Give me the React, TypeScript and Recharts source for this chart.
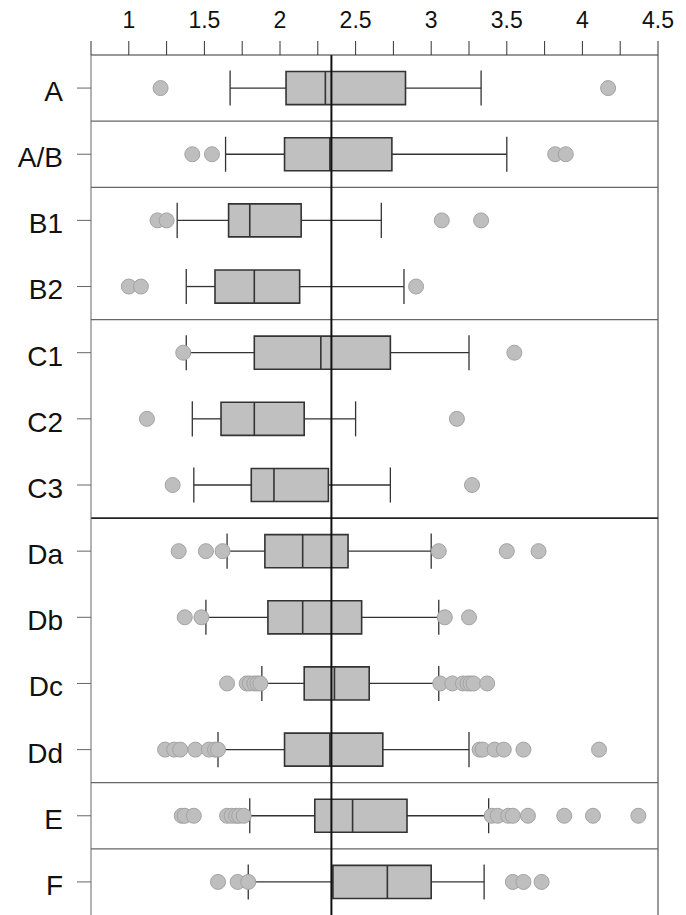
import { ComposedChart, XAxis, YAxis, Scatter, ReferenceArea, ReferenceLine } from 'recharts'

// box plot stats per row
const rowLabels = ['A', 'A/B', 'B1', 'B2', 'C1', 'C2', 'C3', 'Da', 'Db', 'Dc', 'Dd', 'E', 'F']
const whiskerLow = [1.67, 1.64, 1.32, 1.38, 1.38, 1.42, 1.43, 1.65, 1.51, 1.88, 1.59, 1.8, 1.79]
const q1 = [2.04, 2.03, 1.66, 1.57, 1.83, 1.61, 1.81, 1.9, 1.92, 2.16, 2.03, 2.23, 2.35]
const median = [2.3, 2.33, 1.8, 1.83, 2.27, 1.83, 1.96, 2.15, 2.15, 2.36, 2.33, 2.48, 2.71]
const q3 = [2.83, 2.74, 2.14, 2.13, 2.73, 2.16, 2.32, 2.45, 2.54, 2.59, 2.68, 2.84, 3.0]
const whiskerHigh = [3.33, 3.5, 2.67, 2.82, 3.25, 2.5, 2.73, 3.0, 3.05, 3.05, 3.25, 3.38, 3.35]
const outliers = [
  [1.21, 4.17],
  [1.42, 1.55, 3.82, 3.89],
  [1.19, 1.25, 3.07, 3.33],
  [1.0, 1.08, 2.9],
  [1.36, 3.55],
  [1.12, 3.17],
  [1.29, 3.27],
  [1.33, 1.51, 1.62, 3.05, 3.5, 3.71],
  [1.37, 1.48, 3.09, 3.25],
  [1.65, 1.78, 1.8, 1.83, 1.85, 1.87, 3.06, 3.14, 3.21, 3.24, 3.26, 3.28, 3.37],
  [1.24, 1.3, 1.34, 1.44, 1.53, 1.57, 1.59, 3.32, 3.34, 3.42, 3.48, 3.61, 4.11],
  [1.35, 1.37, 1.43, 1.65, 1.68, 1.71, 1.73, 1.76, 3.4, 3.44, 3.51, 3.54, 3.64, 3.88, 4.07, 4.37],
  [1.59, 1.72, 1.79, 3.54, 3.61, 3.73],
]
const xTicks = [0.75, 1, 1.25, 1.5, 1.75, 2, 2.25, 2.5, 2.75, 3, 3.25, 3.5, 3.75, 4, 4.25, 4.5]
const groupBreaks = [0.5, 1.5, 3.5, 6.5, 10.5, 11.5]
const referenceValue = 2.34

const rowIdx = rowLabels.map((_, i) => i)
const outlierPoints = outliers.flatMap((vals, row) => vals.map((v) => ({ v, row })))

const FONT = '"Liberation Sans", Arial, sans-serif'
const HALF = 0.25
const CAP = 0.265

export default function App() {
  return (
    <div style={{ position: 'absolute', left: 0, top: 0, background: '#fff' }}>
      <ComposedChart width={686} height={915} margin={{ top: 0, right: 28, bottom: 0, left: 0 }}>
        <XAxis
          type="number"
          dataKey="v"
          orientation="top"
          domain={[0.75, 4.5]}
          ticks={xTicks}
          interval={0}
          height={55}
          tickSize={14}
          tickMargin={13}
          stroke="#333"
          tick={{ fill: '#111', fontSize: 23, fontFamily: FONT }}
          tickFormatter={(v: number) => (Number.isInteger(v * 2) ? String(v) : '')}
        />
        <YAxis
          type="number"
          dataKey="row"
          domain={[-0.5, 12.5]}
          reversed
          ticks={rowIdx}
          interval={0}
          width={91}
          tickSize={14}
          tickMargin={14}
          stroke="#666"
          tick={{ fill: '#111', fontSize: 28, fontFamily: FONT, dy: 3 }}
          tickFormatter={(i: number) => rowLabels[i] ?? ''}
        />
        <ReferenceLine x={4.5} stroke="#555" strokeWidth={1.2} />
        {groupBreaks.map((y) => (
          <ReferenceLine key={`g-${y}`} y={y} stroke={y === 6.5 ? '#222' : '#666'} strokeWidth={y === 6.5 ? 1.6 : 1.3} />
        ))}
        {rowIdx.map((i) => (
          <ReferenceLine
            key={`wl-${i}`}
            segment={[{ x: whiskerLow[i], y: i }, { x: q1[i], y: i }]}
            stroke="#333"
            strokeWidth={1.3}
          />
        ))}
        {rowIdx.map((i) => (
          <ReferenceLine
            key={`wh-${i}`}
            segment={[{ x: q3[i], y: i }, { x: whiskerHigh[i], y: i }]}
            stroke="#333"
            strokeWidth={1.3}
          />
        ))}
        {rowIdx.map((i) => (
          <ReferenceLine
            key={`cl-${i}`}
            segment={[{ x: whiskerLow[i], y: i - CAP }, { x: whiskerLow[i], y: i + CAP }]}
            stroke="#333"
            strokeWidth={1.3}
          />
        ))}
        {rowIdx.map((i) => (
          <ReferenceLine
            key={`ch-${i}`}
            segment={[{ x: whiskerHigh[i], y: i - CAP }, { x: whiskerHigh[i], y: i + CAP }]}
            stroke="#333"
            strokeWidth={1.3}
          />
        ))}
        {rowIdx.map((i) => (
          <ReferenceArea
            key={`box-${i}`}
            x1={q1[i]}
            x2={q3[i]}
            y1={i - HALF}
            y2={i + HALF}
            fill="#c0c0c0"
            fillOpacity={1}
            stroke="#333"
            strokeWidth={1.6}
          />
        ))}
        {rowIdx.map((i) => (
          <ReferenceLine
            key={`md-${i}`}
            segment={[{ x: median[i], y: i - HALF }, { x: median[i], y: i + HALF }]}
            stroke="#333"
            strokeWidth={1.6}
          />
        ))}
        <ReferenceLine x={referenceValue} stroke="#111" strokeWidth={2} />
        <Scatter
          data={outlierPoints}
          isAnimationActive={false}
          shape={(p: any) => <circle cx={p.cx} cy={p.cy} r={7.5} fill="#bebebe" stroke="#a3a3a3" strokeWidth={1} />}
        />
      </ComposedChart>
    </div>
  )
}
